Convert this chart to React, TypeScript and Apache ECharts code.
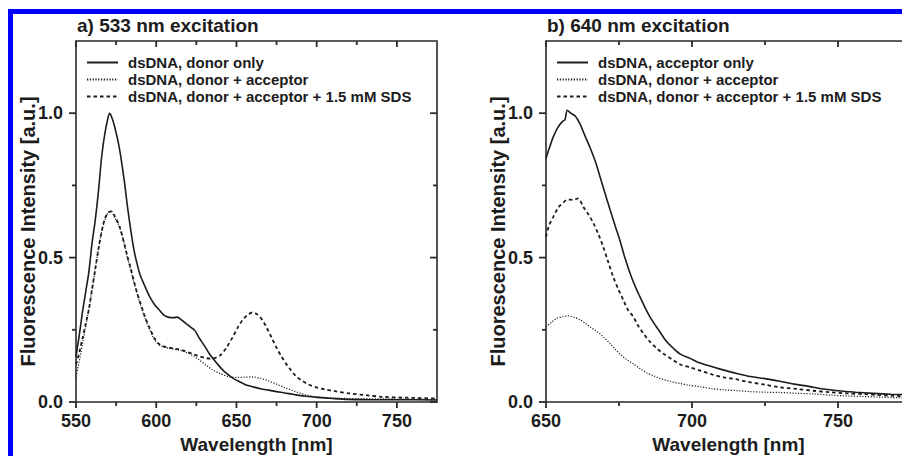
import React, { useEffect, useRef } from 'react';
import * as echarts from 'echarts';

const FONT = '"Liberation Sans", Arial, Helvetica, sans-serif';
const INK = '#1c1c1c';
const AXIS = '#2a2a2a';

const panelTitles = ['a) 533 nm excitation', 'b) 640 nm excitation'];
const xAxisName = 'Wavelength [nm]';
const yAxisName = 'Fluorescence Intensity [a.u.]';

const legendA = ['dsDNA, donor only', 'dsDNA, donor + acceptor', 'dsDNA, donor + acceptor + 1.5 mM SDS'];
const legendB = ['dsDNA, acceptor only', 'dsDNA, donor + acceptor', 'dsDNA, donor + acceptor + 1.5 mM SDS'];

const xRangeA = [550, 775];
const xRangeB = [650, 775];
const yRange = [0, 1.25];
const xLabelsA = [550, 600, 650, 700, 750];
const xLabelsB = [650, 700, 750];
const yLabels = [0, 0.5, 1.0];
const xMinorA = [575, 625, 675, 725];
const xMinorB = [675, 725];
const yMinor = [0.25, 0.75];

// Panel a) 533 nm excitation
const aDonorOnly: [number, number][] = [
  [550, 0.157], [552, 0.23], [554, 0.31], [556, 0.38], [558, 0.45], [560, 0.55], [562, 0.63], [564, 0.73],
  [566, 0.85], [568, 0.93], [570, 0.985], [571, 1.0], [572, 0.99], [574, 0.955], [577, 0.88], [580, 0.77],
  [582, 0.68], [584, 0.6], [586, 0.53], [588, 0.48], [590, 0.44], [593, 0.4], [596, 0.364], [599, 0.337],
  [602, 0.318], [605, 0.3], [608, 0.293], [611, 0.292], [613, 0.294], [616, 0.283], [619, 0.27], [622, 0.257],
  [624, 0.248], [627, 0.22], [630, 0.195], [633, 0.168], [636, 0.146], [639, 0.126], [642, 0.108], [645, 0.094],
  [648, 0.082], [652, 0.07], [656, 0.059], [660, 0.053], [665, 0.046], [670, 0.041], [675, 0.036], [680, 0.031],
  [685, 0.027], [690, 0.022], [695, 0.019], [700, 0.016], [710, 0.012], [720, 0.009], [735, 0.008], [750, 0.008],
  [775, 0.007],
];
const aDonorAcceptor: [number, number][] = [
  [550, 0.088], [552, 0.14], [554, 0.2], [556, 0.26], [558, 0.32], [560, 0.39], [562, 0.46], [564, 0.53],
  [566, 0.59], [568, 0.63], [570, 0.655], [572, 0.66], [574, 0.64], [577, 0.607], [580, 0.55], [582, 0.5],
  [584, 0.46], [586, 0.415], [588, 0.375], [590, 0.34], [593, 0.29], [596, 0.249], [599, 0.215], [602, 0.197],
  [605, 0.19], [608, 0.186], [611, 0.183], [614, 0.18], [617, 0.175], [620, 0.168], [623, 0.16], [627, 0.145],
  [631, 0.128], [635, 0.112], [640, 0.098], [645, 0.088], [650, 0.085], [655, 0.086], [660, 0.087], [665, 0.082],
  [670, 0.073], [675, 0.062], [680, 0.05], [685, 0.04], [690, 0.03], [695, 0.022], [700, 0.018], [710, 0.014],
  [720, 0.012], [740, 0.011], [755, 0.01], [775, 0.008],
];
const aDonorAcceptorSds: [number, number][] = [
  [550, 0.13], [552, 0.17], [554, 0.22], [556, 0.27], [558, 0.32], [560, 0.39], [562, 0.46], [564, 0.53],
  [566, 0.59], [568, 0.635], [570, 0.655], [572, 0.66], [574, 0.645], [577, 0.61], [580, 0.55], [582, 0.505],
  [584, 0.465], [586, 0.42], [588, 0.38], [590, 0.345], [593, 0.295], [596, 0.255], [599, 0.22], [602, 0.2],
  [605, 0.192], [608, 0.188], [611, 0.185], [614, 0.182], [617, 0.178], [620, 0.172], [623, 0.166], [627, 0.158],
  [631, 0.152], [634, 0.15], [637, 0.153], [640, 0.162], [644, 0.19], [648, 0.228], [651, 0.26], [654, 0.285],
  [657, 0.302], [660, 0.31], [663, 0.303], [666, 0.285], [669, 0.256], [672, 0.222], [675, 0.188], [678, 0.158],
  [681, 0.132], [684, 0.11], [687, 0.09], [690, 0.077], [694, 0.063], [699, 0.052], [705, 0.044], [712, 0.037],
  [720, 0.03], [730, 0.024], [741, 0.018], [755, 0.015], [775, 0.012],
];

// Panel b) 640 nm excitation
const bAcceptorOnly: [number, number][] = [
  [650, 0.843], [651, 0.875], [652.5, 0.918], [654, 0.95], [655.5, 0.97], [656.5, 0.978], [657.3, 1.01],
  [658.5, 1.0], [660, 0.99], [661.6, 0.964], [663, 0.93], [665, 0.883], [667, 0.83], [668.5, 0.78], [670, 0.73],
  [672, 0.664], [674, 0.6], [675.3, 0.56], [677, 0.5], [679, 0.44], [681, 0.39], [682.2, 0.364], [684, 0.325],
  [685.6, 0.295], [687.5, 0.265], [689, 0.243], [691, 0.213], [693.6, 0.186], [696, 0.166], [699.3, 0.151],
  [702, 0.138], [705, 0.128], [710, 0.113], [716, 0.097], [720, 0.088], [725, 0.081], [730, 0.072], [735, 0.062],
  [740, 0.054], [745, 0.045], [750, 0.039], [756, 0.034], [762, 0.03], [768, 0.027], [775, 0.025],
];
const bDonorAcceptor: [number, number][] = [
  [650, 0.26], [652, 0.277], [653.7, 0.29], [655.5, 0.295], [657.6, 0.298], [659.5, 0.294], [661.6, 0.285],
  [663.5, 0.272], [665.1, 0.26], [667, 0.247], [668.5, 0.236], [670, 0.222], [671.9, 0.203], [673.5, 0.185],
  [675.3, 0.166], [677.5, 0.148], [679.9, 0.132], [682, 0.117], [684.5, 0.101], [687, 0.09], [689, 0.082],
  [692, 0.073], [695.9, 0.064], [699, 0.058], [702.7, 0.053], [707, 0.046], [711, 0.042], [716, 0.039],
  [720, 0.036], [725, 0.034], [730, 0.033], [736, 0.03], [741.5, 0.028], [747, 0.024], [753, 0.021],
  [759, 0.019], [764, 0.017], [770, 0.015], [775, 0.014],
];
const bDonorAcceptorSds: [number, number][] = [
  [650, 0.572], [651, 0.61], [652.5, 0.641], [654, 0.67], [655, 0.682], [657.6, 0.701], [659.4, 0.7],
  [661, 0.705], [662.8, 0.675], [664.5, 0.65], [666.2, 0.62], [668, 0.58], [669.6, 0.537], [671.3, 0.485],
  [673, 0.434], [674.8, 0.39], [676.5, 0.353], [678, 0.32], [679.9, 0.295], [681.5, 0.265], [683.3, 0.238],
  [685.5, 0.21], [687.9, 0.186], [690.5, 0.165], [693.6, 0.145], [696, 0.13], [699.3, 0.12], [703, 0.108],
  [707, 0.095], [711, 0.085], [715, 0.079], [719, 0.07], [725, 0.06], [730, 0.051], [736, 0.045],
  [741.5, 0.039], [747, 0.034], [753, 0.03], [759, 0.027], [764, 0.024], [770, 0.021], [775, 0.019],
];

const labelFont = { fontFamily: FONT, fontWeight: 'bold' as const, fontSize: 18, color: INK };
const nameFont = { fontFamily: FONT, fontWeight: 'bold' as const, fontSize: 19, color: INK };
const xNameFont = { ...nameFont, lineHeight: 19 };
const yNameFont = { fontFamily: FONT, fontWeight: 'bold' as const, fontSize: 20, color: INK, padding: [0, 20, 0, 0] };
const TICK_STYLE = { stroke: AXIS, lineWidth: 1.8, fill: 'none' };

const styles = [
  { width: 1.6, type: 'solid' as any },
  { width: 1.2, type: [1.2, 1.6] as any },
  { width: 1.8, type: [3.5, 3] as any },
];

function seriesFor(axisIndex: number, names: string[], datasets: [number, number][][]) {
  return datasets.map((data, i) => ({
    type: 'line',
    name: names[i],
    xAxisIndex: axisIndex,
    yAxisIndex: axisIndex,
    data,
    symbol: 'none',
    showSymbol: false,
    smooth: 0.3,
    lineStyle: { color: INK, width: styles[i].width, type: styles[i].type },
    itemStyle: { color: INK },
  }));
}

// tick marks: bottom/left outward, top/right mirrored inward; positions come from the axes' own scales
function xTickSeries(axisIndex: number, major: number[], minor: number[]) {
  const data = [...major.map((v) => [v, 1]), ...minor.map((v) => [v, 0])];
  return {
    type: 'custom',
    xAxisIndex: axisIndex,
    yAxisIndex: axisIndex,
    silent: true,
    clip: false,
    z: 5,
    data,
    renderItem: (_p: any, api: any) => {
      const v = api.value(0);
      const len = api.value(1) ? 6 : 4;
      const bottom = api.coord([v, yRange[0]]);
      const top = api.coord([v, yRange[1]]);
      return {
        type: 'group',
        children: [
          { type: 'line', shape: { x1: bottom[0], y1: bottom[1], x2: bottom[0], y2: bottom[1] + len }, style: TICK_STYLE },
          { type: 'line', shape: { x1: top[0], y1: top[1], x2: top[0], y2: top[1] + len }, style: TICK_STYLE },
        ],
      };
    },
  };
}
function yTickSeries(axisIndex: number, xRange: number[]) {
  const data = [...yLabels.map((v) => [xRange[0], v, 1]), ...yMinor.map((v) => [xRange[0], v, 0])];
  return {
    type: 'custom',
    xAxisIndex: axisIndex,
    yAxisIndex: axisIndex,
    silent: true,
    clip: false,
    z: 5,
    data,
    renderItem: (_p: any, api: any) => {
      const v = api.value(1);
      const len = api.value(2) ? 7 : 4;
      const left = api.coord([xRange[0], v]);
      const right = api.coord([xRange[1], v]);
      return {
        type: 'group',
        children: [
          { type: 'line', shape: { x1: left[0] - len, y1: left[1], x2: left[0], y2: left[1] }, style: TICK_STYLE },
          { type: 'line', shape: { x1: right[0] - len, y1: right[1], x2: right[0], y2: right[1] }, style: TICK_STYLE },
        ],
      };
    },
  };
}

function legendFor(left: number, names: string[]) {
  return {
    orient: 'vertical',
    left,
    top: 54,
    padding: 0,
    itemWidth: 31,
    itemHeight: 17,
    itemGap: 0,
    selectedMode: false,
    data: names,
    itemStyle: { color: 'rgba(0,0,0,0)', borderColor: 'rgba(0,0,0,0)', borderWidth: 0, opacity: 0 },
    textStyle: { fontFamily: FONT, fontWeight: 'bold', fontSize: 15, lineHeight: 17, color: INK, padding: [0, 0, 0, 5] },
  };
}

function xAxisFor(gridIndex: number, range: number[], labels: number[]) {
  return {
    type: 'value',
    gridIndex,
    min: range[0],
    max: range[1],
    interval: 25,
    position: 'bottom',
    axisLine: { show: false, onZero: false },
    axisTick: { show: false },
    splitLine: { show: false },
    axisLabel: {
      show: true,
      margin: 10,
      hideOverlap: false,
      formatter: (v: number) => (labels.includes(v) ? String(v) : ''),
      ...labelFont,
    },
    name: xAxisName,
    nameLocation: 'middle',
    nameGap: 33,
    nameMoveOverlap: false,
    nameTextStyle: xNameFont,
  };
}
function yAxisFor(gridIndex: number) {
  return {
    type: 'value',
    gridIndex,
    min: yRange[0],
    max: yRange[1],
    interval: 0.25,
    position: 'left',
    axisLine: { show: false, onZero: false },
    axisTick: { show: false },
    splitLine: { show: false },
    axisLabel: {
      show: true,
      margin: 13,
      hideOverlap: false,
      formatter: (v: number) => (yLabels.some((l) => Math.abs(l - v) < 1e-9) ? v.toFixed(1) : ''),
      ...labelFont,
    },
    name: yAxisName,
    nameLocation: 'middle',
    nameGap: 38,
    nameRotate: 90,
    nameMoveOverlap: false,
    nameTextStyle: yNameFont,
  };
}

export default function App() {
  const ref = useRef<HTMLDivElement>(null);
  useEffect(() => {
    if (!ref.current) return;
    const chart = echarts.init(ref.current, null, { renderer: 'svg' });
    const frame = {
      show: true, borderColor: AXIS, borderWidth: 1.6, backgroundColor: 'transparent',
      containLabel: false, outerBoundsMode: 'none',
    };
    chart.setOption({
      animation: false,
      backgroundColor: '#ffffff',
      title: [
        { text: panelTitles[0], left: 77, top: 16, padding: 0, textStyle: nameFont },
        { text: panelTitles[1], left: 547, top: 16, padding: 0, textStyle: nameFont },
      ],
      legend: [legendFor(86, legendA), legendFor(556, legendB)],
      grid: [
        { left: 76, top: 41, width: 361, height: 361, ...frame },
        { left: 546, top: 41, width: 365, height: 361, ...frame },
      ],
      xAxis: [xAxisFor(0, xRangeA, xLabelsA), xAxisFor(1, xRangeB, xLabelsB)],
      yAxis: [yAxisFor(0), yAxisFor(1)],
      series: [
        ...seriesFor(0, legendA, [aDonorOnly, aDonorAcceptor, aDonorAcceptorSds]),
        ...seriesFor(1, legendB, [bAcceptorOnly, bDonorAcceptor, bDonorAcceptorSds]),
        xTickSeries(0, xLabelsA, xMinorA),
        yTickSeries(0, xRangeA),
        xTickSeries(1, xLabelsB, xMinorB),
        yTickSeries(1, xRangeB),
      ],
      graphic: [
        { type: 'rect', left: 8, top: 10, shape: { width: 5, height: 446 }, style: { fill: '#0000ff' }, silent: true },
        { type: 'rect', left: 8, top: 9, shape: { width: 894, height: 5 }, style: { fill: '#0000ff' }, silent: true },
      ],
    });
    return () => chart.dispose();
  }, []);
  return (
    <div
      ref={ref}
      style={{ position: 'absolute', left: 0, top: 0, width: 902, height: 456, background: '#fff' }}
    />
  );
}
